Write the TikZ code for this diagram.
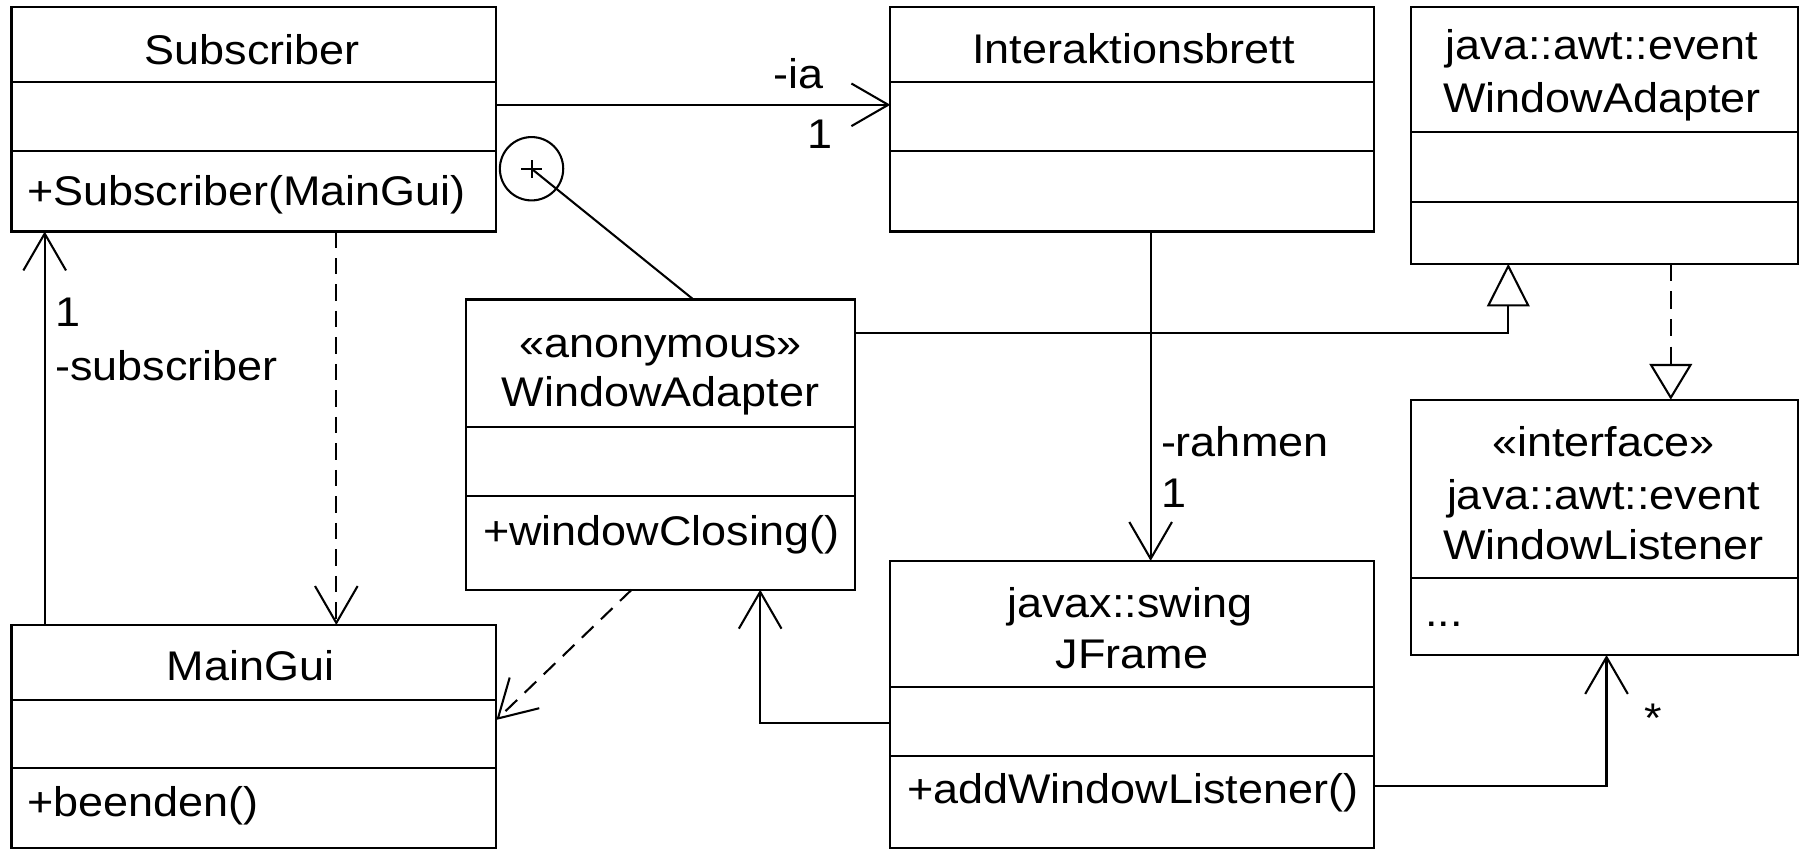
\documentclass[tikz,border=0pt]{standalone}
\usepackage{fontspec}
\setmainfont{Liberation Sans}
\usetikzlibrary{arrows.meta,calc}

% slightly widened class-diagram lettering
\newcommand\umltext[1]{\scalebox{1.085}[1]{#1}}

\tikzset{
  uml/.style={line width=1.8pt},
  classbox/.style={draw, rectangle, line width=1.8pt, inner sep=0pt, outer sep=0pt},
  lbl/.style={inner sep=0pt, outer sep=0pt, anchor=base, font=\fontsize{36}{43}\selectfont},
  lblw/.style={lbl, anchor=base west},
  lble/.style={lbl, anchor=base east},
  navarrow/.style={-{Straight Barb[length=32pt,width=37pt]}},
  genarrow/.style={-{Triangle[open,length=37pt,width=37pt]}},
  realarrow/.style={-{Triangle[open,length=31pt,width=37pt]}},
  dep/.style={dash pattern=on 14pt off 9pt},
}

\begin{document}
\begin{tikzpicture}[x=1pt, y=-1pt, line join=miter]
\useasboundingbox (0,0) rectangle (1568,737);

% ---------- class boxes ----------
\node[classbox, minimum width=421pt, minimum height=195pt] (sub)  at (220.5,103.5) {};
\node[classbox, minimum width=420pt, minimum height=195pt] (ib)   at (983,103.5) {};
\node[classbox, minimum width=336pt, minimum height=223pt] (wa)   at (1393,117.5) {};
\node[classbox, minimum width=338pt, minimum height=252pt] (anon) at (573.5,386) {};
\node[classbox, minimum width=420pt, minimum height=249pt] (jf)   at (983,611.5) {};
\node[classbox, minimum width=336pt, minimum height=221.7pt] (wl) at (1393,457.85) {};
\node[classbox, minimum width=421pt, minimum height=193.4pt] (mg) at (220.5,639.3) {};

% compartment dividers
\draw[uml] (sub.west |- 0,70.8)   -- (sub.east |- 0,70.8);
\draw[uml] (sub.west |- 0,130.7)  -- (sub.east |- 0,130.7);
\draw[uml] (ib.west |- 0,70.8)    -- (ib.east |- 0,70.8);
\draw[uml] (ib.west |- 0,130.7)   -- (ib.east |- 0,130.7);
\draw[uml] (wa.west |- 0,115)     -- (wa.east |- 0,115);
\draw[uml] (wa.west |- 0,175)     -- (wa.east |- 0,175);
\draw[uml] (anon.west |- 0,370.5) -- (anon.east |- 0,370.5);
\draw[uml] (anon.west |- 0,430.7) -- (anon.east |- 0,430.7);
\draw[uml] (jf.west |- 0,596.5)   -- (jf.east |- 0,596.5);
\draw[uml] (jf.west |- 0,656)     -- (jf.east |- 0,656);
\draw[uml] (wl.west |- 0,502)     -- (wl.east |- 0,502);
\draw[uml] (mg.west |- 0,608)     -- (mg.east |- 0,608);
\draw[uml] (mg.west |- 0,667)     -- (mg.east |- 0,667);

% ---------- class texts ----------
\node[lbl]  (subT)  at (219,56)     {\umltext{Subscriber}};
\node[lblw] (subM)  at (23.5,178)   {\umltext{+Subscriber(MainGui)}};
\node[lbl]  (ibT)   at (984,55)     {\umltext{Interaktionsbrett}};
\node[lbl]  (waT1)  at (1391,52)    {\umltext{java::awt::event}};
\node[lbl]  (waT2)  at (1391,97.5)  {\umltext{WindowAdapter}};
\node[lbl]  (anT1)  at (573.5,310)  {\umltext{«anonymous»}};
\node[lbl]  (anT2)  at (573.5,353)  {\umltext{WindowAdapter}};
\node[lblw] (anM)   at (419.5,474)  {\umltext{+windowClosing()}};
\node[lbl]  (jfT1)  at (981,535.7)  {\umltext{javax::swing}};
\node[lbl]  (jfT2)  at (983,580.2)  {\umltext{JFrame}};
\node[lblw] (jfM)   at (787.5,697.7){\umltext{+addWindowListener()}};
\node[lbl]  (wlT1)  at (1392,396)   {\umltext{«interface»}};
\node[lbl]  (wlT2)  at (1392,442.6) {\umltext{java::awt::event}};
\node[lbl]  (wlT3)  at (1392,485.6) {\umltext{WindowListener}};
\node[lblw] (wlM)   at (1237.5,544) {\umltext{...}};
\node[lbl]  (mgT)   at (217.5,591)  {\umltext{MainGui}};
\node[lblw] (mgM)   at (23.5,709)   {\umltext{+beenden()}};

% ---------- connectors ----------
% Subscriber -> Interaktionsbrett
\draw[uml, navarrow] (sub.east |- 0,91) -- (ib.west |- 0,91);
\node[lble] (iaRole) at (715,77)    {\umltext{-ia}};
\node[lble] (iaMult) at (723,128.6) {\umltext{1}};

% nesting of the anonymous class inside Subscriber
\node[circle, draw, uml, minimum size=55pt, inner sep=0pt] (nest) at (461.5,146.5) {};
\draw[uml] ([xshift=-9pt]nest.center) -- ([xshift=9pt]nest.center);
\draw[uml] ([yshift=-8pt]nest.center) -- ([yshift=8pt]nest.center);
\draw[uml] (nest.center) -- (anon.north -| 602,0);

% anonymous WindowAdapter --|> java::awt::event::WindowAdapter
\draw[uml, genarrow] (anon.east |- 0,289) -| (wa.south -| 1309.5,0);

% WindowAdapter ..|> WindowListener
\draw[uml, realarrow, dash pattern=on 15pt off 9pt] (wa.south -| 1450.6,0) -- (wl.north -| 1450.6,0);

% Interaktionsbrett -> JFrame
\draw[uml, navarrow] (ib.south -| 999,0) -- (jf.north -| 999,0);
\node[lblw] (rhRole) at (1008,396)   {\umltext{-rahmen}};
\node[lblw] (rhMult) at (1008,440.6) {\umltext{1}};

% JFrame -> anonymous WindowAdapter
\draw[uml, navarrow] (jf.west |- 0,627.6) -| (anon.south -| 660,0);

% JFrame -> WindowListener
\draw[uml, navarrow] (jf.east |- 0,682.5) -| (wl.south -| 1394.8,0);
\node[lblw] (wlMult) at (1427.5,636) {\umltext{*}};

% MainGui -> Subscriber
\draw[uml, navarrow] (mg.north -| 38.8,0) -- (sub.south -| 38.8,0);
\node[lblw] (sbMult) at (48,283.5) {\umltext{1}};
\node[lblw] (sbRole) at (48,330)   {\umltext{-subscriber}};

% dependencies on MainGui
\draw[uml, navarrow, dep] (sub.south -| 292,0) -- (mg.north -| 292,0);
\draw[uml, navarrow, dep] (anon.south -| 548.4,0) -- (mg.east |- 0,625);
\end{tikzpicture}
\end{document}
